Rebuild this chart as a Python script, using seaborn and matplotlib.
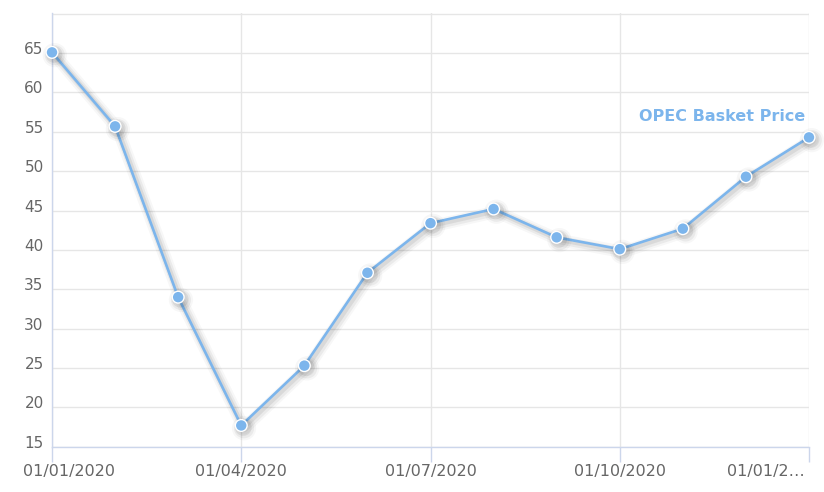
import numpy as np
import pandas as pd
import matplotlib
matplotlib.use("Agg")
import matplotlib.pyplot as plt
import matplotlib.transforms as mtransforms
import matplotlib.patheffects as pe
import seaborn as sns

# monthly OPEC basket price, Jan 2020 .. Jan 2021
months = ['01/01/2020', '01/02/2020', '01/03/2020', '01/04/2020', '01/05/2020',
          '01/06/2020', '01/07/2020', '01/08/2020', '01/09/2020', '01/10/2020',
          '01/11/2020', '01/12/2020', '01/01/2021']
prices = [65.1, 55.7, 34.0, 17.7, 25.3, 37.1, 43.4, 45.2, 41.6, 40.1, 42.7, 49.3, 54.3]
series_name = 'OPEC Basket Price'

tick_idx = [0, 3, 6, 9, 12]
tick_labels = ['01/01/2020', '01/04/2020', '01/07/2020', '01/10/2020', '01/01/2…']
y_ticks = [15, 20, 25, 30, 35, 40, 45, 50, 55, 60, 65]

df = pd.DataFrame({'idx': range(len(months)), 'month': months, 'price': prices})

line_color = '#7cb5ec'
grid_color = '#e6e6e6'
axis_color = '#ccd6eb'
text_color = '#666666'

sns.set_style('white')
plt.rcParams['font.family'] = ['DejaVu Sans']

fig = plt.figure(figsize=(8.24, 4.92), dpi=100)
ax = fig.add_axes([52 / 824, 1 - 446.7 / 492, (809 - 52) / 824, (446.7 - 13) / 492])

shadow = [pe.SimpleLineShadow(offset=(2, -2), shadow_color='black', alpha=0.03, linewidth=9),
          pe.SimpleLineShadow(offset=(2, -2), shadow_color='black', alpha=0.05, linewidth=6),
          pe.SimpleLineShadow(offset=(1.5, -1.5), shadow_color='black', alpha=0.07, linewidth=3.5),
          pe.Normal()]

sns.lineplot(data=df, x='idx', y='price', ax=ax, color=line_color, linewidth=1.9,
             marker='o', markersize=8.5, markeredgecolor='white', markeredgewidth=1.0,
             path_effects=shadow, zorder=5, clip_on=False)

ax.set_xlim(0, len(months) - 1)
ax.set_ylim(15, 70.1)
ax.set_yticks(y_ticks + [70])
ax.set_yticklabels([str(v) for v in y_ticks] + [''])
ax.set_xticks(tick_idx)
ax.set_xticklabels(tick_labels)
ax.set_xlabel('')
ax.set_ylabel('')

ax.grid(True, color=grid_color, linewidth=1.0)
ax.set_axisbelow(True)
for side in ['top', 'right']:
    ax.spines[side].set_visible(False)
for side in ['left', 'bottom']:
    ax.spines[side].set_color(axis_color)
    ax.spines[side].set_linewidth(1.0)

ax.tick_params(axis='y', left=False, length=0, pad=6, labelsize=11, labelcolor=text_color)
ax.tick_params(axis='x', bottom=True, length=10.5, width=1, color=axis_color, pad=2,
               labelsize=11.5, labelcolor=text_color)

# nudge tick labels like the original renderer does
for lab in ax.get_yticklabels():
    lab.set_transform(lab.get_transform() + mtransforms.ScaledTranslation(0, 5 / 100, fig.dpi_scale_trans))
xl = ax.get_xticklabels()
xl[0].set_ha('left')
xl[0].set_transform(xl[0].get_transform() + mtransforms.ScaledTranslation(-29 / 100, 0, fig.dpi_scale_trans))
xl[-1].set_ha('right')
xl[-1].set_transform(xl[-1].get_transform() + mtransforms.ScaledTranslation(-4 / 100, 0, fig.dpi_scale_trans))

# series label next to the last point
ax.annotate(series_name, xy=(df['idx'].iloc[-1], df['price'].iloc[-1]),
            xytext=(-4, 21), textcoords='offset pixels', ha='right', va='center',
            color=line_color, fontsize=11.5, fontweight='bold', annotation_clip=False)

fig.savefig('out.png', dpi=100)
